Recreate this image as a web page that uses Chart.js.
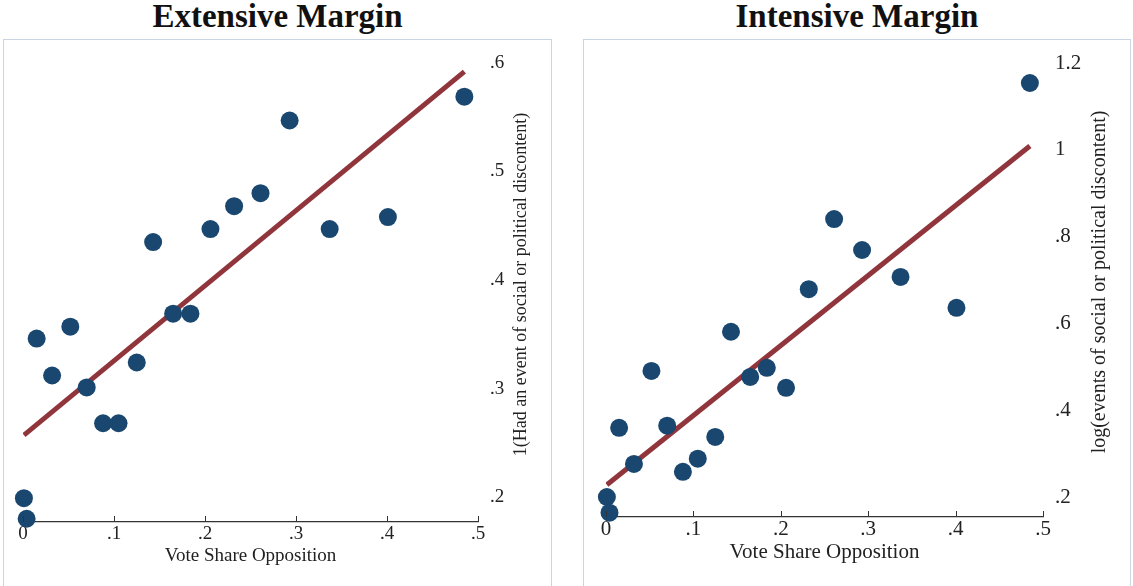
<!DOCTYPE html>
<html>
<head>
<meta charset="utf-8">
<script src="https://cdn.jsdelivr.net/npm/chart.js"></script>
<style>
body { margin:0; background:#fff; width:1133px; height:586px; overflow:hidden; position:relative; }
.box { position:absolute; top:39px; height:600px; border:1px solid #c9d5e3; box-sizing:border-box; }
.ttl { position:absolute; top:0; font:bold 33px "Liberation Serif", serif; line-height:32px; text-align:center; color:#111; }
.wrap { position:absolute; top:0; height:586px; }
</style>
</head>
<body>
<div class="box" style="left:3px;width:549px"></div>
<div class="box" style="left:583px;width:548px"></div>
<div class="ttl" style="left:3px;width:549px">Extensive Margin</div>
<div class="ttl" style="left:583px;width:548px">Intensive Margin</div>
<div class="wrap" style="left:0;width:566px"><canvas id="extChart"></canvas></div>
<div class="wrap" style="left:566px;width:567px"><canvas id="intChart"></canvas></div>
<script>
// binned vote share of the opposition (same bins in both panels)
var voteShare = [0.001, 0.004, 0.015, 0.032, 0.052, 0.070, 0.088, 0.105, 0.125, 0.143, 0.165, 0.184, 0.206, 0.232, 0.261, 0.293, 0.337, 0.401, 0.485];
var extensive = [0.199, 0.180, 0.346, 0.312, 0.357, 0.301, 0.268, 0.268, 0.324, 0.435, 0.369, 0.369, 0.447, 0.468, 0.480, 0.547, 0.447, 0.458, 0.569];
var intensive = [0.202, 0.166, 0.361, 0.278, 0.492, 0.366, 0.260, 0.290, 0.340, 0.582, 0.478, 0.499, 0.453, 0.680, 0.841, 0.770, 0.708, 0.637, 1.154];

// fitted lines (end points)
var fitX = [0.001, 0.485];
var extFit = [0.257, 0.592];
var intFit = [0.230, 1.009];

var xTicks = [0, 0.1, 0.2, 0.3, 0.4, 0.5];
var xLabels = ['0', '.1', '.2', '.3', '.4', '.5'];
var extYTicks = [0.2, 0.3, 0.4, 0.5, 0.6];
var extYLabels = ['.2', '.3', '.4', '.5', '.6'];
var intYTicks = [0.2, 0.4, 0.6, 0.8, 1.0, 1.2];
var intYLabels = ['.2', '.4', '.6', '.8', '1', '1.2'];

var serif = '"Liberation Serif", serif';
var navy = '#1a476f';
var maroon = '#90353b';

function pts(xs, ys) {
    return xs.map(function (x, i) { return { x: x, y: ys[i] }; });
}

// y title reads bottom-to-top on the right side, and ticks point inward
var extras = {
    id: 'extras',
    afterDraw: function (chart, args, opts) {
        var c = chart.ctx, a = chart.chartArea, xs = chart.scales.x;
        c.save();
        c.strokeStyle = '#333';
        c.lineWidth = 1;
        xs.ticks.forEach(function (t) {
            var px = Math.round(xs.getPixelForValue(t.value)) + 0.5;
            c.beginPath();
            c.moveTo(px, a.bottom);
            c.lineTo(px, a.bottom - 6);
            c.stroke();
        });
        c.translate(a.right + opts.offset, (a.top + a.bottom) / 2 - 8);
        c.rotate(-Math.PI / 2);
        c.font = opts.size + 'px ' + serif;
        c.fillStyle = '#222';
        c.textAlign = 'center';
        c.textBaseline = 'middle';
        c.fillText(opts.text, 0, 0);
        c.restore();
    }
};

function makeChart(id, yVals, fitY, yTicks, yLabels, yMin, yMax, yTitle, o) {
    return new Chart(document.getElementById(id), {
        type: 'scatter',
        data: {
            datasets: [{
                data: pts(voteShare, yVals),
                backgroundColor: navy,
                borderWidth: 0,
                pointRadius: 9,
                pointHoverRadius: 9,
                clip: false,
                order: 0
            }, {
                type: 'line',
                data: pts(fitX, fitY),
                borderColor: maroon,
                borderWidth: 5,
                pointRadius: 0,
                fill: false,
                order: 1
            }]
        },
        options: {
            responsive: true,
            maintainAspectRatio: false,
            animation: false,
            layout: { padding: { left: o.left, top: 63, right: 0, bottom: 0 } },
            plugins: {
                legend: { display: false },
                tooltip: { enabled: false },
                extras: { text: yTitle, offset: o.titleOffset, size: o.yTitleSize }
            },
            scales: {
                x: {
                    type: 'linear',
                    min: 0,
                    max: 0.5,
                    afterBuildTicks: function (s) { s.ticks = xTicks.map(function (v) { return { value: v }; }); },
                    afterFit: function (s) { s.height = o.xHeight; },
                    grid: { display: true, drawOnChartArea: false, drawTicks: false },
                    border: { display: true, color: '#333', width: 1.3 },
                    ticks: {
                        autoSkip: false,
                        maxRotation: 0,
                        padding: o.tickPad,
                        color: '#222',
                        font: { family: serif, size: o.fontSize },
                        callback: function (v, i) { return xLabels[i]; }
                    },
                    title: {
                        display: true,
                        text: 'Vote Share Opposition',
                        color: '#222',
                        font: { family: serif, size: o.fontSize },
                        padding: { top: 0, bottom: o.titlePad }
                    }
                },
                y: {
                    type: 'linear',
                    position: 'right',
                    min: yMin,
                    max: yMax,
                    afterBuildTicks: function (s) { s.ticks = yTicks.map(function (v) { return { value: v }; }); },
                    afterFit: function (s) { s.width = o.yWidth; },
                    grid: { display: false, drawTicks: false },
                    border: { display: false },
                    ticks: {
                        autoSkip: false,
                        padding: 12,
                        color: '#222',
                        font: { family: serif, size: o.fontSize },
                        callback: function (v, i) { return yLabels[i]; }
                    }
                }
            }
        },
        plugins: [extras]
    });
}

makeChart('extChart', extensive, extFit, extYTicks, extYLabels, 0.177, 0.6,
    '1(Had an event of social or political discontent)',
    { left: 23, xHeight: 64, yWidth: 88, titlePad: 19, titleOffset: 43, fontSize: 19, tickPad: 1, yTitleSize: 18 });
makeChart('intChart', intensive, intFit, intYTicks, intYLabels, 0.156, 1.2,
    'log(events of social or political discontent)',
    { left: 40, xHeight: 69, yWidth: 90, titlePad: 21, titleOffset: 57, fontSize: 21, tickPad: 0, yTitleSize: 20 });
</script>
</body>
</html>
